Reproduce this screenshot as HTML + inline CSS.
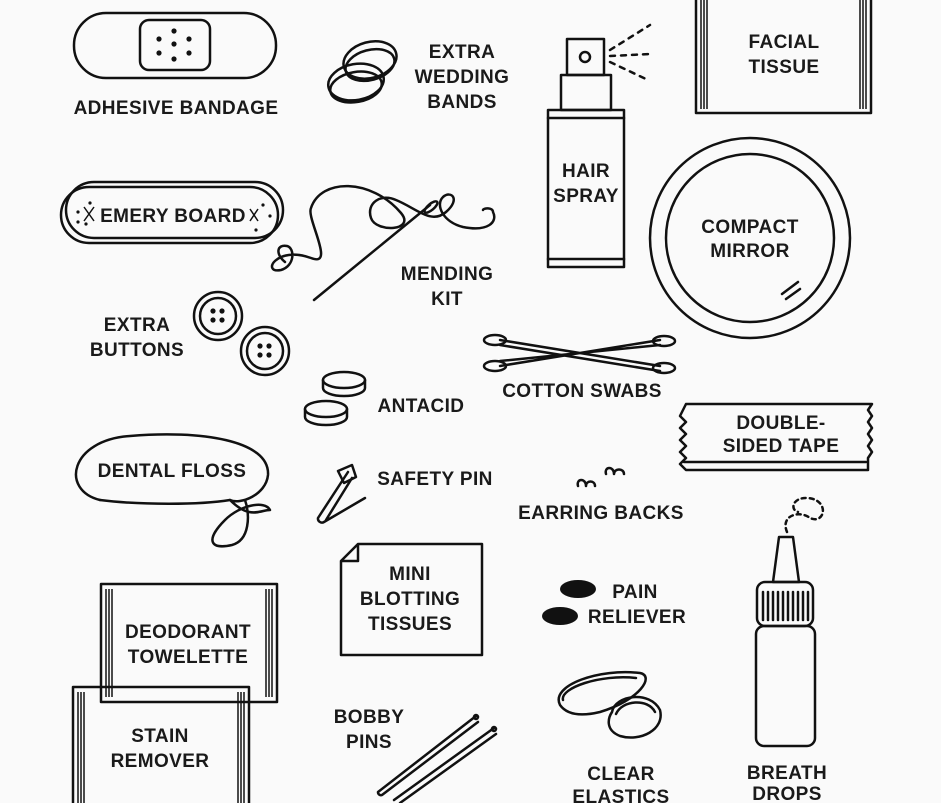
<!DOCTYPE html>
<html><head><meta charset="utf-8"><style>
html,body{margin:0;padding:0;background:#fafafa;}
svg{display:block}
text{font-family:"Liberation Sans",sans-serif;font-weight:bold;font-size:19px;fill:#1a1a1a;text-anchor:middle;letter-spacing:0.4px}
.s{fill:none;stroke:#111;stroke-width:2.5;stroke-linecap:round;stroke-linejoin:round}
.t{fill:none;stroke:#111;stroke-width:1.5}
</style></head><body>
<svg width="941" height="803" viewBox="0 0 941 803">
<!-- Adhesive bandage -->
<rect class="s" x="74" y="13" width="202" height="65" rx="32"/>
<rect class="s" x="140" y="20" width="70" height="50" rx="9"/>
<g fill="#111"><circle cx="174" cy="31" r="2.6"/><circle cx="159" cy="39" r="2.6"/><circle cx="189" cy="39" r="2.6"/><circle cx="174" cy="44" r="2.6"/><circle cx="159" cy="53" r="2.6"/><circle cx="189" cy="53" r="2.6"/><circle cx="174" cy="59" r="2.6"/></g>
<text x="176" y="114">ADHESIVE BANDAGE</text>

<!-- Wedding bands -->
<ellipse class="s" cx="370" cy="60" rx="27" ry="18" transform="rotate(-15 370 60)"/>
<ellipse class="s" cx="370" cy="65" rx="25" ry="15" transform="rotate(-15 370 65)"/>
<ellipse class="s" cx="356" cy="82" rx="28" ry="18" transform="rotate(-10 356 82)"/>
<ellipse class="s" cx="356" cy="87" rx="26" ry="15" transform="rotate(-10 356 87)"/>
<text x="462" y="58">EXTRA</text><text x="462" y="83">WEDDING</text><text x="462" y="108">BANDS</text>

<!-- Hair spray -->
<rect class="s" x="567" y="39" width="37" height="36"/>
<circle class="s" cx="585" cy="57" r="5"/>
<rect class="s" x="561" y="75" width="50" height="35"/>
<rect class="s" x="548" y="110" width="76" height="157"/>
<line class="s" x1="548" y1="118" x2="624" y2="118"/>
<line class="s" x1="548" y1="259" x2="624" y2="259"/>
<g class="s" stroke-dasharray="5 6"><line x1="610" y1="50" x2="650" y2="25"/><line x1="610" y1="56" x2="650" y2="54"/><line x1="610" y1="62" x2="648" y2="80"/></g>
<text x="586" y="177">HAIR</text><text x="586" y="202">SPRAY</text>

<!-- Facial tissue -->
<rect class="s" x="696" y="-5" width="175" height="118"/>
<g class="t"><line x1="701" y1="0" x2="701" y2="109"/><line x1="704" y1="0" x2="704" y2="109"/><line x1="707" y1="0" x2="707" y2="109"/><line x1="860" y1="0" x2="860" y2="109"/><line x1="863" y1="0" x2="863" y2="109"/><line x1="866" y1="0" x2="866" y2="109"/></g>
<text x="784" y="48">FACIAL</text><text x="784" y="73">TISSUE</text>

<!-- Emery board -->
<rect class="s" x="66" y="182" width="217" height="56" rx="28"/>
<rect class="s" x="61" y="187" width="217" height="56" rx="28" fill="#fafafa"/>
<text x="173" y="222">EMERY BOARD</text>
<g fill="#111"><circle cx="78" cy="212" r="1.6"/><circle cx="78" cy="222" r="1.6"/><circle cx="90" cy="203" r="1.6"/><circle cx="86" cy="224" r="1.6"/><circle cx="263" cy="205" r="1.6"/><circle cx="270" cy="216" r="1.6"/><circle cx="256" cy="230" r="1.6"/></g>
<path class="t" d="M84 207 l10 14 M94 207 l-10 14 M258 209 l-8 12 M250 209 l8 12"/>

<!-- Mending kit -->
<path class="s" d="M285 262 c-10 -8 -8 -18 2 -16 c8 2 8 20 -6 24 c-20 4 -5 -25 30 -12 c25 10 -5 -40 0 -50 c10 -30 60 -30 90 5 c15 18 -25 20 -30 5 c-5 -15 10 -25 25 -18 c20 8 35 25 50 12 c15 -13 5 -22 -3 -15 c-8 8 0 25 20 30 c25 5 35 -5 30 -15 c0 -5 -10 -4 -10 -2"/>
<line class="s" x1="314" y1="300" x2="430" y2="205"/>
<ellipse class="s" cx="431" cy="207" rx="8" ry="3" transform="rotate(-40 431 207)"/>
<text x="447" y="280">MENDING</text><text x="447" y="305">KIT</text>

<!-- Compact mirror -->
<circle class="s" cx="750" cy="238" r="100"/>
<circle class="s" cx="750" cy="238" r="84"/>
<path class="s" d="M782 294 l16 -12 M786 299 l14 -10"/>
<text x="750" y="233">COMPACT</text><text x="750" y="257">MIRROR</text>

<!-- Buttons -->
<text x="137" y="331">EXTRA</text><text x="137" y="356">BUTTONS</text>
<circle class="s" cx="218" cy="316" r="24"/><circle class="s" cx="218" cy="316" r="18"/>
<circle class="s" cx="265" cy="351" r="24"/><circle class="s" cx="265" cy="351" r="18"/>
<g fill="#111"><circle cx="213" cy="311" r="2.6"/><circle cx="222" cy="311" r="2.6"/><circle cx="213" cy="320" r="2.6"/><circle cx="222" cy="320" r="2.6"/><circle cx="260" cy="346" r="2.6"/><circle cx="269" cy="346" r="2.6"/><circle cx="260" cy="355" r="2.6"/><circle cx="269" cy="355" r="2.6"/></g>

<!-- Cotton swabs -->
<path class="s" d="M500 340 L660 366 M500 366 L660 340 M500 345 L660 371 M500 361 L660 345"/>
<ellipse class="s" cx="495" cy="340" rx="11" ry="5"/><ellipse class="s" cx="495" cy="366" rx="11" ry="5"/>
<ellipse class="s" cx="664" cy="341" rx="11" ry="5"/><ellipse class="s" cx="664" cy="368" rx="11" ry="5"/>
<text x="582" y="397">COTTON SWABS</text>

<!-- Antacid -->
<ellipse class="s" cx="344" cy="380" rx="21" ry="8"/><path class="s" d="M323 380 v8 a21 8 0 0 0 42 0 v-8"/>
<ellipse class="s" cx="326" cy="409" rx="21" ry="8"/><path class="s" d="M305 409 v8 a21 8 0 0 0 42 0 v-8"/>
<text x="421" y="412">ANTACID</text>

<!-- Double-sided tape -->
<path class="s" d="M686 404 H872 l-4 6 4 6 -4 6 4 6 -4 6 4 6 -4 6 4 6 -4 6 V470 H686 l-6 -6 6 -6 -6 -6 6 -6 -6 -6 6 -6 -6 -6 6 -6 -6 -6 z"/>
<line class="s" x1="684" y1="462" x2="866" y2="462"/>
<text x="781" y="429">DOUBLE-</text><text x="781" y="452">SIDED TAPE</text>

<!-- Dental floss -->
<path class="s" d="M100 500 C60 490 70 440 130 436 C200 430 270 440 268 475 C266 495 240 505 230 500 C250 520 260 510 270 510 C265 500 240 505 225 520 C205 540 210 550 232 545 C250 540 250 515 245 500"/>
<path class="s" d="M100 500 C140 505 200 505 230 500"/>
<text x="172" y="477">DENTAL FLOSS</text>

<!-- Safety pin -->
<path class="s" d="M348 472 L318 518 a4 4 0 0 0 6 4 L365 498 M352 478 L326 520"/>
<path class="s" d="M338 471 l14 -6 l4 12 l-12 6 z" fill="#111"/>
<text x="435" y="485">SAFETY PIN</text>

<!-- Earring backs -->
<path class="s" d="M578 486 c-2 -8 8 -8 8 0 c0 -6 9 -6 9 0 M606 474 c-2 -8 8 -8 8 0 c0 -6 10 -6 10 0"/>
<text x="601" y="519">EARRING BACKS</text>

<!-- Breath drops -->
<path class="s" stroke-dasharray="4 4" d="M787 532 C780 515 800 510 810 518 C825 525 830 500 808 498 C792 497 790 510 798 512"/>
<path class="s" d="M779 537 h14 l6 45 h-26 z"/>
<rect class="s" x="757" y="582" width="56" height="44" rx="8"/>
<g class="s" stroke-width="2"><line x1="763" y1="592" x2="763" y2="620"/><line x1="768" y1="592" x2="768" y2="620"/><line x1="773" y1="592" x2="773" y2="620"/><line x1="778" y1="592" x2="778" y2="620"/><line x1="783" y1="592" x2="783" y2="620"/><line x1="788" y1="592" x2="788" y2="620"/><line x1="793" y1="592" x2="793" y2="620"/><line x1="798" y1="592" x2="798" y2="620"/><line x1="803" y1="592" x2="803" y2="620"/><line x1="808" y1="592" x2="808" y2="620"/></g>
<rect class="s" x="756" y="626" width="59" height="120" rx="8"/>
<text x="787" y="779">BREATH</text><text x="787" y="800">DROPS</text>

<!-- Mini blotting tissues -->
<path class="s" d="M358 544 H482 V655 H341 V561 z M341 561 H358 V544"/>
<text x="410" y="580">MINI</text><text x="410" y="605">BLOTTING</text><text x="410" y="630">TISSUES</text>

<!-- Pain reliever -->
<ellipse cx="578" cy="589" rx="18" ry="9" fill="#111"/>
<ellipse cx="560" cy="616" rx="18" ry="9" fill="#111"/>
<text x="635" y="598">PAIN</text><text x="637" y="623">RELIEVER</text>

<!-- Towelettes -->
<rect class="s" x="73" y="687" width="176" height="125"/>
<g class="t"><line x1="78" y1="692" x2="78" y2="803"/><line x1="81" y1="692" x2="81" y2="803"/><line x1="84" y1="692" x2="84" y2="803"/><line x1="238" y1="692" x2="238" y2="803"/><line x1="241" y1="692" x2="241" y2="803"/><line x1="244" y1="692" x2="244" y2="803"/></g>
<rect class="s" x="101" y="584" width="176" height="118" fill="#fafafa"/>
<g class="t"><line x1="106" y1="589" x2="106" y2="697"/><line x1="109" y1="589" x2="109" y2="697"/><line x1="112" y1="589" x2="112" y2="697"/><line x1="266" y1="589" x2="266" y2="697"/><line x1="269" y1="589" x2="269" y2="697"/><line x1="272" y1="589" x2="272" y2="697"/></g>
<text x="188" y="638">DEODORANT</text><text x="188" y="663">TOWELETTE</text>
<text x="160" y="742">STAIN</text><text x="160" y="767">REMOVER</text>

<!-- Bobby pins -->
<text x="369" y="723">BOBBY</text><text x="369" y="748">PINS</text>
<path class="s" d="M476 716 L378 792 a3 3 0 0 0 4 3 L478 722 M494 728 L394 800 M496 734 L400 803"/>
<circle class="s" cx="476" cy="717" r="2"/><circle class="s" cx="494" cy="729" r="2"/>

<!-- Clear elastics -->
<path class="s" d="M560 705 C550 685 600 668 640 673 C655 676 640 700 600 712 C575 718 565 712 560 705 Z"/>
<path class="s" d="M563 700 C560 688 600 674 636 678"/>
<path class="s" d="M612 712 C615 695 650 690 660 710 C665 730 640 742 620 736 C605 730 608 718 612 712 Z"/>
<path class="s" d="M616 714 C622 700 648 698 655 712"/>
<text x="621" y="780">CLEAR</text><text x="621" y="803">ELASTICS</text>
</svg>
</body></html>
